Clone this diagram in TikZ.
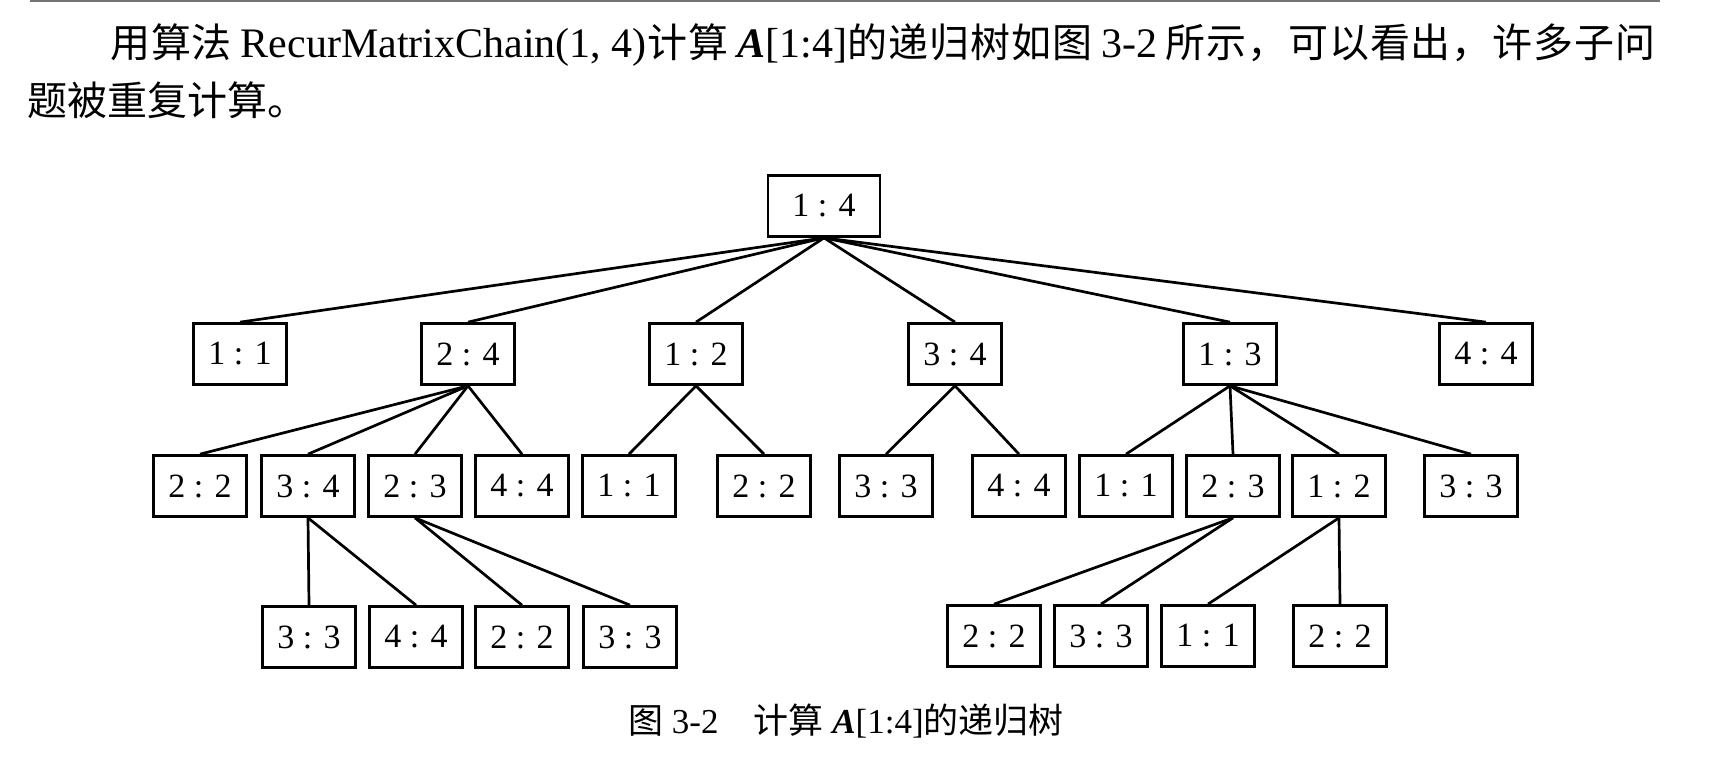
\documentclass[tikz,border=0pt]{standalone}
\usepackage{fontspec}
\setmainfont{Liberation Serif}
\newfontfamily\cjk{Noto Sans CJK SC}
\newcommand{\gp}{\hskip 0pt plus 1fil minus 2pt\relax}
\newcommand{\lt}[1]{{\rmfamily\fontsize{42}{48}\selectfont #1}}
\begin{document}
\begin{tikzpicture}[x=1pt,y=-1pt,
  box/.style={draw, line width=2.7pt, minimum width=93pt, minimum height=61pt, inner sep=0pt,
    font=\fontsize{34}{40}\selectfont},
  edge/.style={line width=2.7pt},
  txt/.style={inner sep=0pt, anchor=base west}]
\useasboundingbox (0,0) rectangle (1718,767);
\draw[black!55, line width=2.5pt] (30,1) -- (1660,1);

% header text
\node[txt, font=\fontsize{40}{48}\selectfont] (t1) at (110,58)
 {\hbox to 1545pt{\cjk 用\gp 算\gp 法\ \lt{RecurMatrixChain(1, 4)}\gp 计\gp 算\ \lt{\textbf{\textit{A}}[1:4]}\gp 的\gp 递\gp 归\gp 树\gp 如\gp 图\ \lt{3-2}\ 所\gp 示\gp ，\gp 可\gp 以\gp 看\gp 出\gp ，\gp 许\gp 多\gp 子\gp 问}};
\node[txt, font=\fontsize{40}{48}\selectfont] (t2) at (27,116) {\cjk 题被重复计算。};

% root
\node[box, minimum width=112pt] (r) at (824,206) {1 : 4};

% level 1
\node[box] (a1) at (240,354) {1 : 1};
\node[box] (a2) at (468,354) {2 : 4};
\node[box] (a3) at (696,354) {1 : 2};
\node[box] (a4) at (955,354) {3 : 4};
\node[box] (a5) at (1230,354) {1 : 3};
\node[box] (a6) at (1486,354) {4 : 4};

% level 2
\node[box] (b1) at (200,486) {2 : 2};
\node[box] (b2) at (308,486) {3 : 4};
\node[box] (b3) at (415,486) {2 : 3};
\node[box] (b4) at (522,486) {4 : 4};
\node[box] (b5) at (629,486) {1 : 1};
\node[box] (b6) at (764,486) {2 : 2};
\node[box] (b7) at (886,486) {3 : 3};
\node[box] (b8) at (1019,486) {4 : 4};
\node[box] (b9) at (1126,486) {1 : 1};
\node[box] (b10) at (1233,486) {2 : 3};
\node[box] (b11) at (1339,486) {1 : 2};
\node[box] (b12) at (1471,486) {3 : 3};

% level 3
\node[box] (c1) at (309,637) {3 : 3};
\node[box] (c2) at (416,637) {4 : 4};
\node[box] (c3) at (522,637) {2 : 2};
\node[box] (c4) at (630,637) {3 : 3};
\node[box] (c5) at (994,636) {2 : 2};
\node[box] (c6) at (1101,636) {3 : 3};
\node[box] (c7) at (1208,636) {1 : 1};
\node[box] (c8) at (1340,636) {2 : 2};

% edges
\foreach \t in {a1,a2,a3,a4,a5,a6} \draw[edge] (r.south) -- (\t.north);
\foreach \t in {b1,b2,b3,b4} \draw[edge] (a2.south) -- (\t.north);
\foreach \t in {b5,b6} \draw[edge] (a3.south) -- (\t.north);
\foreach \t in {b7,b8} \draw[edge] (a4.south) -- (\t.north);
\foreach \t in {b9,b10,b11,b12} \draw[edge] (a5.south) -- (\t.north);
\foreach \t in {c1,c2} \draw[edge] (b2.south) -- (\t.north);
\foreach \t in {c3,c4} \draw[edge] (b3.south) -- (\t.north);
\foreach \t in {c5,c6} \draw[edge] (b10.south) -- (\t.north);
\foreach \t in {c7,c8} \draw[edge] (b11.south) -- (\t.north);

% caption
\node[txt, font=\fontsize{35}{40}\selectfont] (cap) at (628,733)
 {{\cjk 图}\ 3-2\hspace{35pt}{\cjk 计算}\ \textbf{\textit{A}}[1:4]{\cjk 的递归树}};
\end{tikzpicture}
\end{document}
